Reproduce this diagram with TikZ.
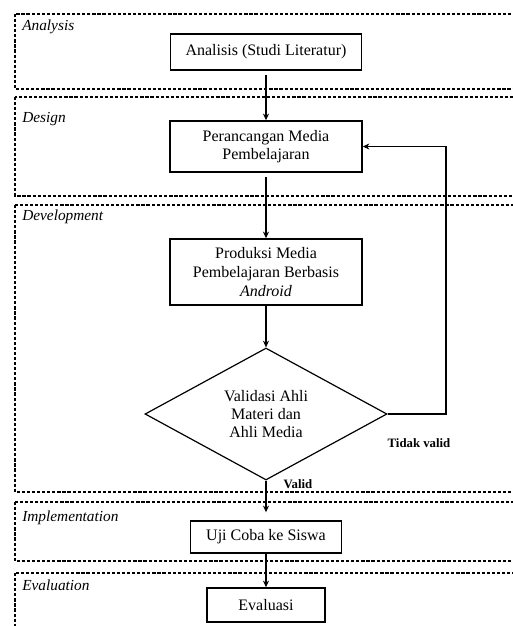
\documentclass[tikz,border=0pt]{standalone}
\usepackage{fontspec}
\setmainfont{Liberation Serif}
\usepackage{tikz}
\usetikzlibrary{arrows.meta, positioning, calc, shapes.geometric}

\begin{document}
\begin{tikzpicture}[
            x=0.75pt, y=-0.75pt,
            box/.style={draw, line width=1.1pt, rectangle, align=center, inner sep=2pt,
                        font=\fontsize{12}{14}\selectfont},
            decision/.style={draw, line width=0.9pt, diamond, aspect=1.83, inner sep=0pt,
                        align=center, minimum width=181.5pt, minimum height=99pt,
                        font=\fontsize{12}{13.5}\selectfont},
            phase/.style={draw, dash pattern=on 2.4pt off 1.4pt, line width=0.8pt},
            phaselabel/.style={anchor=west, inner sep=0pt, font=\fontsize{11.5}{13}\selectfont\itshape},
            note/.style={inner sep=0pt, font=\fontsize{9.6}{11}\selectfont\bfseries},
            flow/.style={->, line width=0.8pt},
            >={Stealth[length=5pt, width=4.5pt]}
        ]
            \useasboundingbox (0,0) rectangle (513,626);
            \clip (0,0) rectangle (513,626);

            % phase frames
            \draw[phase] (15,14) rectangle (530,89);
            \draw[phase] (15,97) rectangle (530,196);
            \draw[phase] (15,205) rectangle (530,492);
            \draw[phase] (15,502) rectangle (530,561);
            \draw[phase] (15,573) rectangle (530,640);

            % phase labels
            \node[phaselabel] (LA) at (22,27) {Analysis};
            \node[phaselabel] (LD) at (22,119) {Design};
            \node[phaselabel] (LV) at (22,217) {Development};
            \node[phaselabel] (LI) at (22,518) {Implementation};
            \node[phaselabel] (LE) at (22,585) {Evaluation};

            % steps
            \node[box, minimum width=143.25pt, minimum height=27pt] (ana) at (266,52) {Analisis (Studi Literatur)};
            \node[box, minimum width=144pt, minimum height=38.25pt] (per) at (266,146.5) {Perancangan Media\\Pembelajaran};
            \node[box, minimum width=144pt, minimum height=49.5pt] (prod) at (266,272) {Produksi Media\\Pembelajaran Berbasis\\\textit{Android}};
            \node[decision] (val) at (266,414) {Validasi Ahli\\Materi dan\\Ahli Media};
            \node[box, minimum width=113pt, minimum height=24pt] (uji) at (266,537) {Uji Coba ke Siswa};
            \node[box, minimum width=88.5pt, minimum height=25.5pt] (eva) at (266,605) {Evaluasi};

            % edge labels
            \node[note] (ok) at (298,484) {Valid};
            \node[note] (notok) at (419,443) {Tidak valid};

            % edges
            \coordinate (turn) at (446,414);
            \draw[flow, shorten <=3.5pt] (ana) -- (per);
            \draw[flow, shorten <=3.5pt] (per) -- (prod);
            \draw[flow] (prod) -- (val);
            \draw[flow, shorten >=6pt] (val) -- (uji);
            \draw[flow] (uji) -- (eva);
            \draw[flow] (val.east) -- (turn) |- (per.east);
        \end{tikzpicture}
\end{document}
